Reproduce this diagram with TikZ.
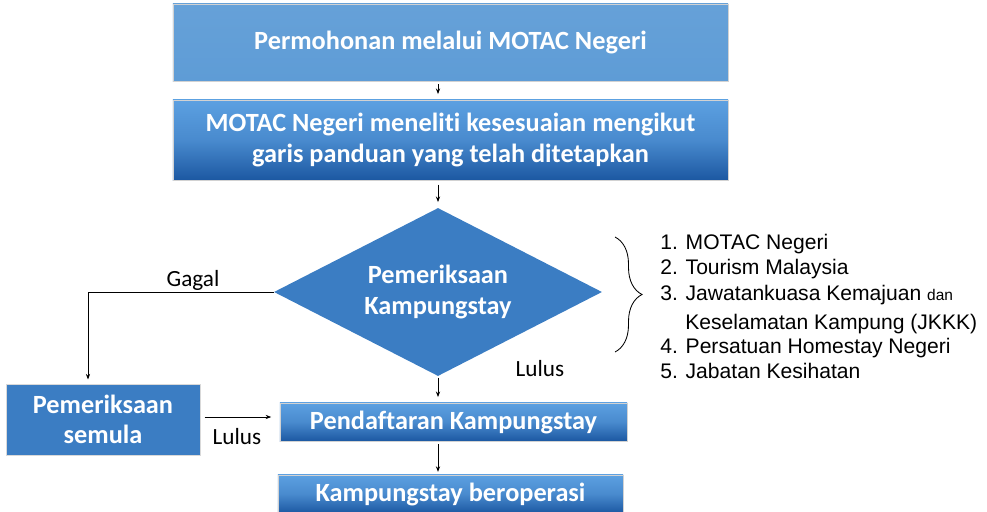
\documentclass[tikz,border=0pt]{standalone}
\usepackage{fontspec}
\setmainfont{Carlito}[Ligatures=NoCommon]
\newfontfamily\listfont{Liberation Sans}
\usetikzlibrary{arrows.meta,shapes.geometric,decorations.pathreplacing}

\definecolor{boxlight}{RGB}{94,156,214}
\definecolor{gradtop}{RGB}{92,160,225}
\definecolor{gradbot}{RGB}{28,88,162}
\definecolor{flatblue}{RGB}{59,125,195}

\tikzset{
  boxtext/.style={text=white,font=\fontsize{18.7}{21.5}\selectfont\bfseries,align=center,inner sep=0pt},
  lightbox/.style={boxtext,draw=gray!35,top color=boxlight!95!white,bottom color=boxlight},
  gradbox/.style={boxtext,draw=gray!35,top color=gradtop,bottom color=gradbot,middle color=gradtop!70!gradbot},
  flatbox/.style={boxtext,fill=flatblue,draw=gray!30},
  arr/.style={-{Stealth[length=4pt,width=3pt]},line width=0.6pt},
  lbl/.style={font=\fontsize{16.5}{20}\selectfont},
  item/.style={anchor=base west,font=\listfont\fontsize{15}{18}\selectfont,inner sep=0pt}
}

\begin{document}
\begin{tikzpicture}[x=0.025cm,y=-0.025cm]
\useasboundingbox (0,0) rectangle (987,512);

\node[lightbox,minimum width=13.875cm,minimum height=1.925cm](1) at (450.5,42.5) {Permohonan melalui MOTAC Negeri};
\node[gradbox,minimum width=13.875cm,minimum height=2cm](2) at (450.5,140) {MOTAC Negeri meneliti kesesuaian mengikut\\garis panduan yang telah ditetapkan};
\node[diamond,flatbox,draw=none,aspect=1.95,minimum width=8.2cm,minimum height=4.2cm](3) at (438,292) {Pemeriksaan\\Kampungstay};
\node[flatbox,minimum width=4.85cm,minimum height=1.775cm](3n) at (103,419.5) {Pemeriksaan\\semula};
\node[gradbox,minimum width=8.675cm,minimum height=0.95cm](4) at (453.5,422) {Pendaftaran Kampungstay};
\node[gradbox,minimum width=8.625cm,minimum height=0.95cm](5) at (450.5,494) {Kampungstay beroperasi};

\draw[arr,shorten <=2pt,shorten >=4pt] (1.south -| 3) -- (2.north -| 3);
\draw[arr,shorten <=3pt,shorten >=4pt] (2.south -| 3) -- (3.north);
\draw[arr,shorten <=1pt,shorten >=4pt] (3.south) -- (4.north -| 3);
\draw[arr,shorten <=2pt,shorten >=2pt] (4.south -| 3) -- (5.north -| 3);

\coordinate(g) at (88,292);
\draw[arr,shorten >=3pt] (3.west) -- (g) -- (g |- 3n.north);
\draw[arr,shorten <=3pt,shorten >=6pt] (3n.east |- 0,417) -- (4.west |- 0,417);

\node[lbl](gagal) at (193,280) {Gagal};
\node[lbl](lulus1) at (540,369) {Lulus};
\node[lbl](lulus2) at (237,437) {Lulus};

\draw[line width=0.6pt,decorate,decoration={brace,amplitude=0.675cm}] (615,237) -- (615,352);

\node[item](i1) at (660,249) {1. MOTAC Negeri};
\node[item](i2) at (660,274) {2. Tourism Malaysia};
\node[item](i3) at (660,300) {3. Jawatankuasa Kemajuan {\fontsize{11}{13}\selectfont dan}};
\node[item](i3b) at (685,329) {Keselamatan Kampung (JKKK)};
\node[item](i4) at (660,353) {4. Persatuan Homestay Negeri};
\node[item](i5) at (660,378) {5. Jabatan Kesihatan};

\end{tikzpicture}
\end{document}
